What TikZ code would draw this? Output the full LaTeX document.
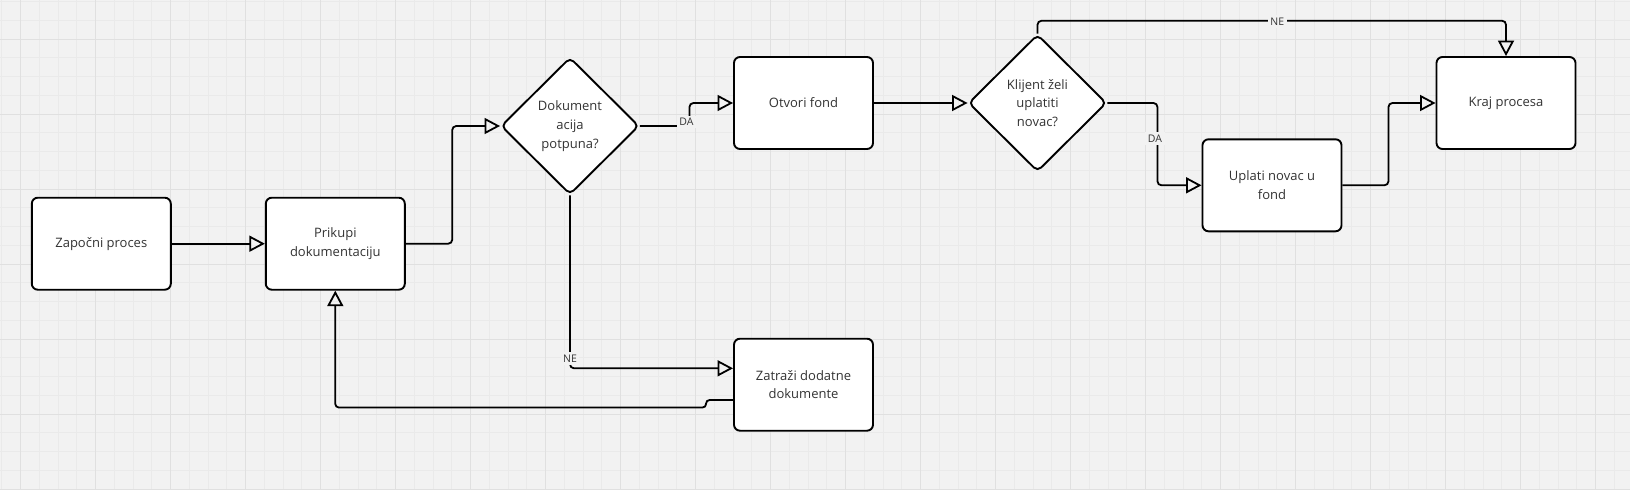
\documentclass[tikz,border=0pt]{standalone}
\usepackage{fontspec}
\setmainfont{Open Sans}
\usetikzlibrary{arrows.meta,shapes.geometric,calc}
\definecolor{bg}{HTML}{F2F2F2}
\definecolor{gminor}{HTML}{EAEAEA}
\definecolor{gmajor}{HTML}{E0E0E0}
\definecolor{txt}{HTML}{333333}
\begin{document}
\begin{tikzpicture}[x=1pt,y=-1pt,
  box/.style={draw=black, line width=1.9pt, fill=white, rounded corners=6pt,
    minimum width=139pt, minimum height=92pt, align=center, text=txt,
    font=\fontsize{13}{18.7}\selectfont, inner sep=0pt},
  dia/.style={diamond, draw=black, line width=1.9pt, fill=white, rounded corners=5pt,
    minimum width=138pt, minimum height=137pt, align=center, text=txt,
    font=\fontsize{13}{18.7}\selectfont, inner sep=0pt},
  conn/.style={line width=1.8pt, rounded corners=4pt,
    -{Triangle[open,length=15.5pt,width=16pt]}},
  lbl/.style={fill=bg, text=txt, font=\fontsize{10.5}{12}\selectfont, inner sep=2.5pt},
  minorline/.style={draw=gminor, line width=1pt},
  majorline/.style={draw=gmajor, line width=1pt},
]
\useasboundingbox (0,0) rectangle (1630,490);
\fill[bg] (0,0) rectangle (1630,490);
% grid
\foreach \i in {0,...,86} \draw[minorline] ({1.95+18.75*\i},0) -- ++(0,490);
\foreach \i in {0,...,26} \draw[minorline] (0,{1.5+18.75*\i}) -- ++(1630,0);
\foreach \i in {0,...,21} \draw[majorline] ({20.7+75*\i},0) -- ++(0,490);
\foreach \i in {0,...,6} \draw[majorline] (0,{39+75*\i}) -- ++(1630,0);

% nodes
\node[box] (start) at (101.3,243.7) {Započni proces};
\node[box] (prik) at (335.3,243.7) {Prikupi\\dokumentaciju};
\node[dia] (d1) at (570,126) {Dokument\\acija\\potpuna?};
\node[box] (otv) at (803.5,103) {Otvori fond};
\node[box] (zat) at (803.5,384.7) {Zatraži dodatne\\dokumente};
\node[dia] (d2) at (1037.5,103) {Klijent želi\\uplatiti\\novac?};
\node[box] (upl) at (1272,185.3) {Uplati novac u\\fond};
\node[box] (kraj) at (1506,103) {Kraj procesa};

% connectors
\draw[conn] (start.east) -- (prik.west);
\draw[conn] (prik.east) -- ++(46.5,0) |- (d1.west);
\draw[conn] (d1.east) -- ++(49.5,0) |- (otv.west);
\draw[conn] (d1.south) |- ([yshift=16.4pt]zat.west);
\draw[conn, rounded corners=3.5pt] ([yshift=-15.3pt]zat.west) -- ++(-27,0) -- ++(0,7.5) -| (prik.south);
\draw[conn] (otv.east) -- (d2.west);
\draw[conn] (d2.north) -- ++(0,-12.8) -| (kraj.north);
\draw[conn] (d2.east) -- ++(50,0) |- (upl.west);
\draw[conn] (upl.east) -- ++(46,0) |- (kraj.west);

% labels
\node[lbl] (la) at (686.5,122) {DA};
\node[lbl] (lb) at (570,358.3) {NE};
\node[lbl] (lc) at (1277.3,21.7) {NE};
\node[lbl] (ld) at (1155,138.3) {DA};
\end{tikzpicture}
\end{document}
